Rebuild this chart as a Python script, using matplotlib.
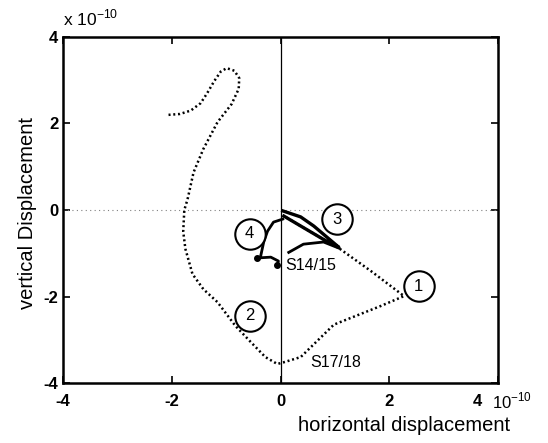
import numpy as np
import matplotlib
matplotlib.use("Agg")
import matplotlib.pyplot as plt

plt.rcParams['font.family'] = ['Liberation Sans', 'DejaVu Sans']

# dotted trajectory (units of 1e-10)
path_x = [-2.06, -1.85, -1.65, -1.47, -1.35, -1.22, -1.1, -0.99, -0.85, -0.76, -0.77, -0.9,
          -1.16, -1.42, -1.6, -1.71, -1.77, -1.79, -1.75, -1.62, -1.42, -1.16, -0.83, -0.55,
          -0.28, -0.06, 0.06, 0.37, 0.98, 1.84, 2.27, 1.66, 1.07, 0.87, 0.37, 0.06]
path_y = [2.2, 2.22, 2.3, 2.47, 2.7, 2.98, 3.2, 3.28, 3.22, 3.05, 2.8, 2.45,
          2.03, 1.41, 0.87, 0.25, 0.0, -0.5, -0.9, -1.48, -1.83, -2.13, -2.68, -3.05,
          -3.4, -3.56, -3.52, -3.4, -2.65, -2.22, -1.99, -1.41, -0.88, -0.74, -0.37, -0.14]

# solid segments
wedge_x = [0.04, 0.37, 0.61, 1.07, 0.87, 0.37, 0.06]
wedge_y = [-0.02, -0.16, -0.37, -0.86, -0.74, -0.37, -0.14]
arc4_x = [0.04, -0.13, -0.24, -0.31, -0.37, -0.44, -0.18, -0.04, -0.06]
arc4_y = [-0.21, -0.28, -0.49, -0.74, -1.09, -1.11, -1.09, -1.18, -1.27]
arc2_x = [0.15, 0.42, 0.79, 1.07]
arc2_y = [-0.98, -0.79, -0.74, -0.88]

circ_x = [2.54, -0.57, 1.03, -0.57]
circ_y = [-1.76, -2.45, -0.21, -0.55]
circ_lbl = ['1', '2', '3', '4']

fig = plt.figure(figsize=(5.48, 4.43), dpi=100)
ax = fig.add_axes([0.115, 0.1354, 0.794, 0.7811])

ax.axhline(0, color='gray', lw=0.8, ls=(0, (1, 3)))
ax.axvline(0, color='black', lw=0.9)

ax.plot(path_x, path_y, color='black', lw=1.8, ls=(0, (0.8, 1.1)))
ax.plot(wedge_x, wedge_y, color='black', lw=2.4, solid_joinstyle='round')
ax.plot(arc4_x, arc4_y, color='black', lw=2.0)
ax.plot(arc4_x[-1:] + arc4_x[5:6], arc4_y[-1:] + arc4_y[5:6], 'o', color='black', ms=4)
ax.plot(arc2_x, arc2_y, color='black', lw=2.0)

ax.scatter(circ_x, circ_y, s=480, facecolor='white', edgecolor='black', lw=1.5, zorder=5)
for cx, cy, t in zip(circ_x, circ_y, circ_lbl):
    ax.text(cx, cy, t, ha='center', va='center', fontsize=12, zorder=6)

ax.text(0.55, -1.29, 'S14/15', ha='center', va='center', fontsize=11.5)
ax.text(1.01, -3.52, 'S17/18', ha='center', va='center', fontsize=11.5)

ax.set_xlim(-4, 4)
ax.set_ylim(-4, 4)
ax.set_xticks([-4, -2, 0, 2, 4])
ax.set_yticks([-4, -2, 0, 2, 4])
ax.set_xticklabels(['-4', '-2', '0', '2', ''], fontsize=12, fontweight='bold')
ax.set_yticklabels(['-4', '-2', '0', '2', '4'], fontsize=12, fontweight='bold')
ax.tick_params(direction='in', length=5, width=1.2, top=True, right=True)
ax.tick_params(axis='x', pad=8)
for s in ax.spines.values():
    s.set_linewidth(1.8)

fig.text(0.115, 0.935, r'x 10$^{\mathregular{-10}}$', fontsize=12.5, ha='left', va='bottom')
fig.text(0.862, 0.094, '4', fontsize=12, fontweight='bold', ha='left', va='center')
fig.text(0.897, 0.094, r'10$^{\mathregular{-10}}$', fontsize=12, ha='left', va='center')
fig.text(0.738, 0.04, 'horizontal displacement', fontsize=14.5, ha='center', va='center')
fig.text(0.05, 0.52, 'vertical Displacement', fontsize=14.5, ha='center', va='center', rotation=90)

fig.savefig('out.png', dpi=100)
